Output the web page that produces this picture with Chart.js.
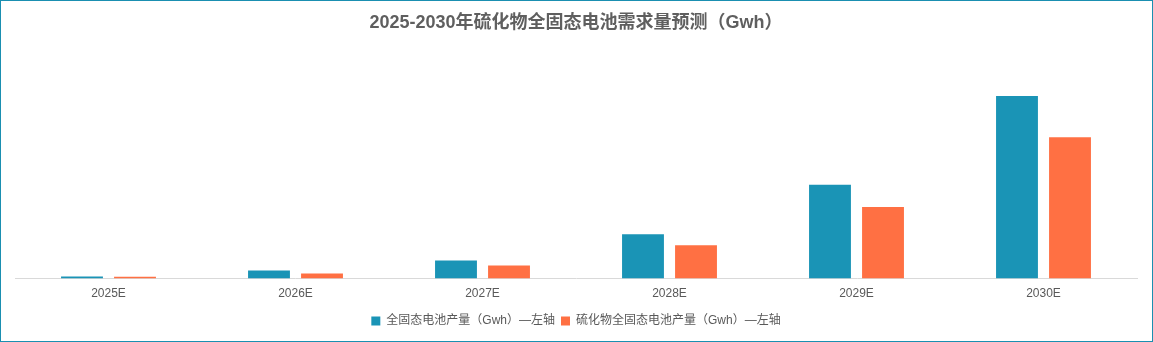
<!DOCTYPE html>
<html><head><meta charset="utf-8">
<script src="https://cdn.jsdelivr.net/npm/chart.js@4/dist/chart.umd.min.js"></script>
<style>
html,body{margin:0;padding:0;background:#fff;}
#wrap{position:absolute;left:0;top:0;width:1153px;height:342px;box-sizing:border-box;border:1px solid #1a8fb1;}
#box{position:absolute;left:0;top:0;width:1151px;height:340px;}
</style></head>
<body><div id="wrap"><div id="box"><canvas id="c"></canvas></div></div>
<script>
const categories = ["2025E","2026E","2027E","2028E","2029E","2030E"];
const allSolidState = [2, 8, 18, 44, 93, 181];
const sulfideSolidState = [1.8, 5, 13, 33, 71, 140];
const seriesNames = ["全固态电池产量（Gwh）—左轴","硫化物全固态电池产量（Gwh）—左轴"];
const titleText = "2025-2030年硫化物全固态电池需求量预测（Gwh）";
const FONT = "'Liberation Sans', Arial, 'Noto Sans CJK SC', sans-serif";

new Chart(document.getElementById('c'), {
  type: 'bar',
  data: {
    labels: categories,
    datasets: [
      {label: seriesNames[0], data: allSolidState, backgroundColor: '#1a94b6', categoryPercentage: 0.567, barPercentage: 0.79},
      {label: seriesNames[1], data: sulfideSolidState, backgroundColor: '#ff7043', categoryPercentage: 0.567, barPercentage: 0.79}
    ]
  },
  options: {
    responsive: true, maintainAspectRatio: false, animation: false,
    layout: {padding: {left: 14, right: 15, top: 0, bottom: 4}},
    plugins: {
      title: {display: true, text: titleText, color: '#5f5f5f', font: {family: FONT, size: 18, weight: 'bold'}, padding: {top: 11, bottom: 19}},
      legend: {position: 'bottom', labels: {color: '#595959', font: {family: FONT, size: 12}, boxWidth: 9, boxHeight: 9, padding: 6}},
      tooltip: {enabled: false}
    },
    scales: {
      x: {grid: {display: false, drawTicks: false}, border: {color: '#d9d9d9', width: 1},
          ticks: {color: '#595959', font: {family: FONT, size: 12}, padding: 8}},
      y: {display: false, min: 0, max: 224}
    }
  }
});
</script></body></html>
